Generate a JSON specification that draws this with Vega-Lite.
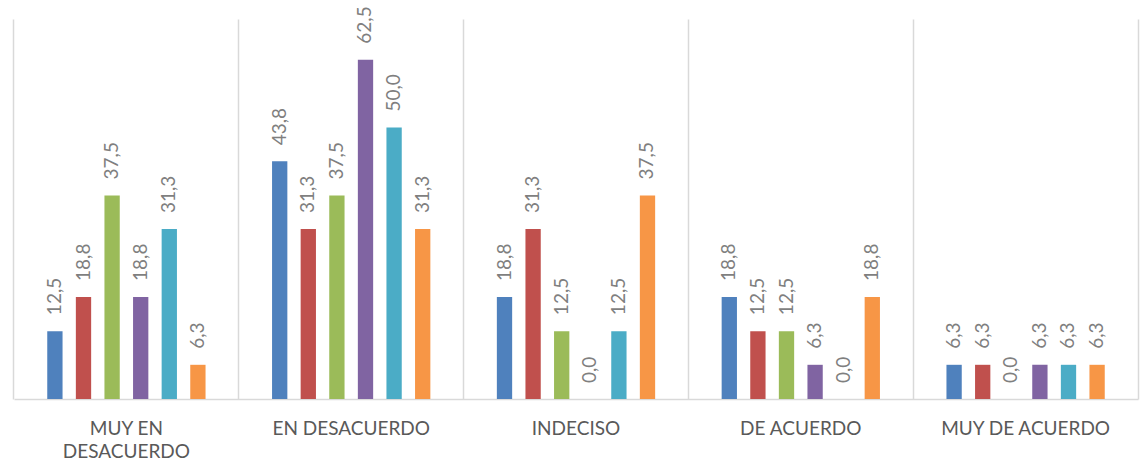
{
  "$schema": "https://vega.github.io/schema/vega-lite/v6.json",
  "width": 1124,
  "height": 380,
  "autosize": {"type": "none"},
  "padding": {"left": 14, "top": 19, "right": 4, "bottom": 64},
  "background": "white",
  "config": {
    "view": {"stroke": null},
    "locale": {"number": {"decimal": ",", "thousands": ".", "grouping": [3], "currency": ["", " €"]}}
  },
  "data": {
    "values": [
      {"categoria": "MUY EN DESACUERDO", "serie": "Serie 1", "valor": 12.5},
      {"categoria": "MUY EN DESACUERDO", "serie": "Serie 2", "valor": 18.8},
      {"categoria": "MUY EN DESACUERDO", "serie": "Serie 3", "valor": 37.5},
      {"categoria": "MUY EN DESACUERDO", "serie": "Serie 4", "valor": 18.8},
      {"categoria": "MUY EN DESACUERDO", "serie": "Serie 5", "valor": 31.3},
      {"categoria": "MUY EN DESACUERDO", "serie": "Serie 6", "valor": 6.3},
      {"categoria": "EN DESACUERDO", "serie": "Serie 1", "valor": 43.8},
      {"categoria": "EN DESACUERDO", "serie": "Serie 2", "valor": 31.3},
      {"categoria": "EN DESACUERDO", "serie": "Serie 3", "valor": 37.5},
      {"categoria": "EN DESACUERDO", "serie": "Serie 4", "valor": 62.5},
      {"categoria": "EN DESACUERDO", "serie": "Serie 5", "valor": 50.0},
      {"categoria": "EN DESACUERDO", "serie": "Serie 6", "valor": 31.3},
      {"categoria": "INDECISO", "serie": "Serie 1", "valor": 18.8},
      {"categoria": "INDECISO", "serie": "Serie 2", "valor": 31.3},
      {"categoria": "INDECISO", "serie": "Serie 3", "valor": 12.5},
      {"categoria": "INDECISO", "serie": "Serie 4", "valor": 0.0},
      {"categoria": "INDECISO", "serie": "Serie 5", "valor": 12.5},
      {"categoria": "INDECISO", "serie": "Serie 6", "valor": 37.5},
      {"categoria": "DE ACUERDO", "serie": "Serie 1", "valor": 18.8},
      {"categoria": "DE ACUERDO", "serie": "Serie 2", "valor": 12.5},
      {"categoria": "DE ACUERDO", "serie": "Serie 3", "valor": 12.5},
      {"categoria": "DE ACUERDO", "serie": "Serie 4", "valor": 6.3},
      {"categoria": "DE ACUERDO", "serie": "Serie 5", "valor": 0.0},
      {"categoria": "DE ACUERDO", "serie": "Serie 6", "valor": 18.8},
      {"categoria": "MUY DE ACUERDO", "serie": "Serie 1", "valor": 6.3},
      {"categoria": "MUY DE ACUERDO", "serie": "Serie 2", "valor": 6.3},
      {"categoria": "MUY DE ACUERDO", "serie": "Serie 3", "valor": 0.0},
      {"categoria": "MUY DE ACUERDO", "serie": "Serie 4", "valor": 6.3},
      {"categoria": "MUY DE ACUERDO", "serie": "Serie 5", "valor": 6.3},
      {"categoria": "MUY DE ACUERDO", "serie": "Serie 6", "valor": 6.3}
    ]
  },
  "encoding": {
    "x": {
      "field": "categoria",
      "type": "nominal",
      "sort": null,
      "title": null,
      "scale": {"paddingInner": 0.0414, "paddingOuter": 0.0207},
      "axis": {
        "bandPosition": -0.0216,
        "grid": true,
        "gridColor": "#d9d9d9",
        "gridWidth": 1.5,
        "domainColor": "#d9d9d9",
        "domainWidth": 1.5,
        "ticks": false,
        "labelAngle": 0,
        "labelAlign": "center",
        "labelFont": "Lato",
        "labelFontSize": 19,
        "labelColor": "#595959",
        "labelPadding": 20,
        "labelLineHeight": 23,
        "labelBaseline": "top",
        "labelOverlap": false,
        "labelBound": false,
        "labelExpr": "datum.label == 'MUY EN DESACUERDO' ? ['MUY EN', 'DESACUERDO'] : datum.label"
      }
    },
    "xOffset": {
      "field": "serie",
      "type": "nominal",
      "scale": {"paddingInner": 0.465, "paddingOuter": 1}
    },
    "y": {
      "field": "valor",
      "type": "quantitative",
      "title": null,
      "scale": {"domain": [0, 70], "nice": false},
      "axis": {
        "orient": "right",
        "labels": false,
        "ticks": false,
        "grid": false,
        "domain": true,
        "domainColor": "#d9d9d9",
        "domainWidth": 1.5
      }
    }
  },
  "layer": [
    {
      "mark": {"type": "bar"},
      "encoding": {
        "color": {
          "field": "serie",
          "type": "nominal",
          "legend": null,
          "scale": {
            "domain": ["Serie 1", "Serie 2", "Serie 3", "Serie 4", "Serie 5", "Serie 6"],
            "range": ["#4F81BD", "#C0504D", "#9BBB59", "#8064A2", "#4BACC6", "#F79646"]
          }
        }
      }
    },
    {
      "mark": {
        "type": "text",
        "angle": 270,
        "align": "left",
        "baseline": "middle",
        "dx": 16,
        "font": "Lato",
        "fontSize": 19,
        "color": "#7f7f7f"
      },
      "encoding": {
        "text": {"field": "valor", "type": "quantitative", "format": ".1f"}
      }
    }
  ]
}
